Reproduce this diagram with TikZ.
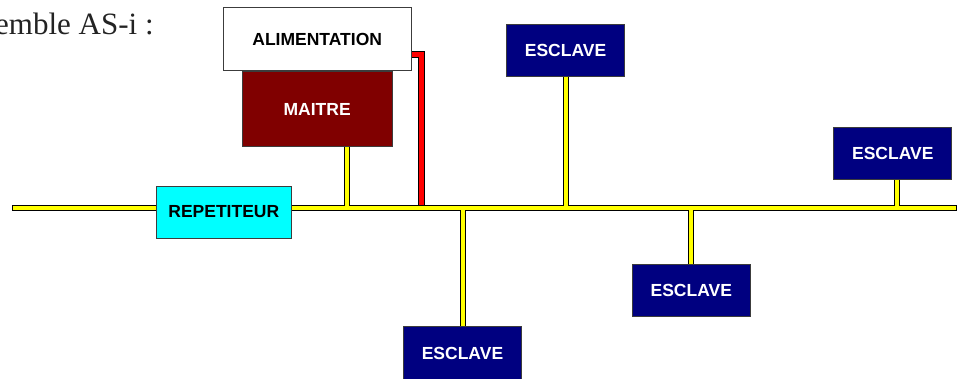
\documentclass[tikz,border=0pt]{standalone}
\usepackage{fontspec}
\setmainfont{Liberation Serif}
\newfontfamily\boxfont{Liberation Sans}
\usepackage{tikz}
\usetikzlibrary{positioning}
\usetikzlibrary{backgrounds}
\definecolor{esclave}{RGB}{0, 0, 128}
\definecolor{maitre}{RGB}{128, 0, 0}
\definecolor{repeteur}{RGB}{0, 255, 255}
\definecolor{bus}{RGB}{255, 255, 0}
\definecolor{rahmen}{RGB}{60, 60, 60}
\definecolor{schrift}{RGB}{35, 35, 35}
\tikzset{
	box/.style={draw=rahmen, line width=0.8pt, inner sep=0pt, minimum width=118pt, minimum height=52.5pt, font=\boxfont\bfseries\fontsize{17.5}{20}\selectfont},
	esclavebox/.style={box, fill=esclave, text=white}
}

\begin{document}
\begin{tikzpicture}[x=1pt, y=-1pt]
			\useasboundingbox (0,0) rectangle (966,379);

			\node[anchor=base west, inner sep=0pt, text=schrift, font=\fontsize{31}{36}\selectfont] (titel) at (-5,35) {emble AS-i :};

			\node[box, fill=white, minimum width=188pt, minimum height=63pt] (alim) at (317.2,39.2) {ALIMENTATION};
			\node[box, fill=maitre, text=white, minimum width=150pt, minimum height=75pt, below=0pt of alim] (maitre) {MAITRE};
			\node[box, fill=repeteur, minimum width=135pt, minimum height=52pt] (repet) at (223.8,212) {REPETITEUR};

			\node[esclavebox] (esc1) at (565.5,50.5) {ESCLAVE};
			\node[esclavebox] (esc2) at (892.8,153.3) {ESCLAVE};
			\node[esclavebox] (esc3) at (462.5,353) {ESCLAVE};
			\node[esclavebox] (esc4) at (691.3,290.3) {ESCLAVE};

			\coordinate (busW) at (12,208.3);
			\coordinate (busE) at (957,208.3);
			\coordinate (mtap) at ([xshift=30pt]maitre.south);
			\coordinate (etap) at ([xshift=4pt]esc2.south);
			\coordinate (knick) at (421.5,55);

			\begin{scope}[on background layer]
				% alimentation -> bus
				\draw[black, line width=7pt] (alim.east |- knick) -- (knick) -- (knick |- busW);
				\draw[red, line width=5pt] (alim.east |- knick) -- (knick) -- (knick |- busW);

				\foreach \farbe/\breite/\kurz in {black/6pt/0pt, bus/4pt/1pt} {
					\draw[\farbe, line width=\breite, shorten <=\kurz, shorten >=\kurz] (busW) -- (busE);
					\draw[\farbe, line width=\breite] (mtap) -- (mtap |- busW);
					\draw[\farbe, line width=\breite] (esc1) -- (esc1 |- busW);
					\draw[\farbe, line width=\breite] (etap) -- (etap |- busW);
					\draw[\farbe, line width=\breite] (esc3) -- (esc3 |- busW);
					\draw[\farbe, line width=\breite] (esc4) -- (esc4 |- busW);
				}
			\end{scope}
		\end{tikzpicture}
\end{document}
